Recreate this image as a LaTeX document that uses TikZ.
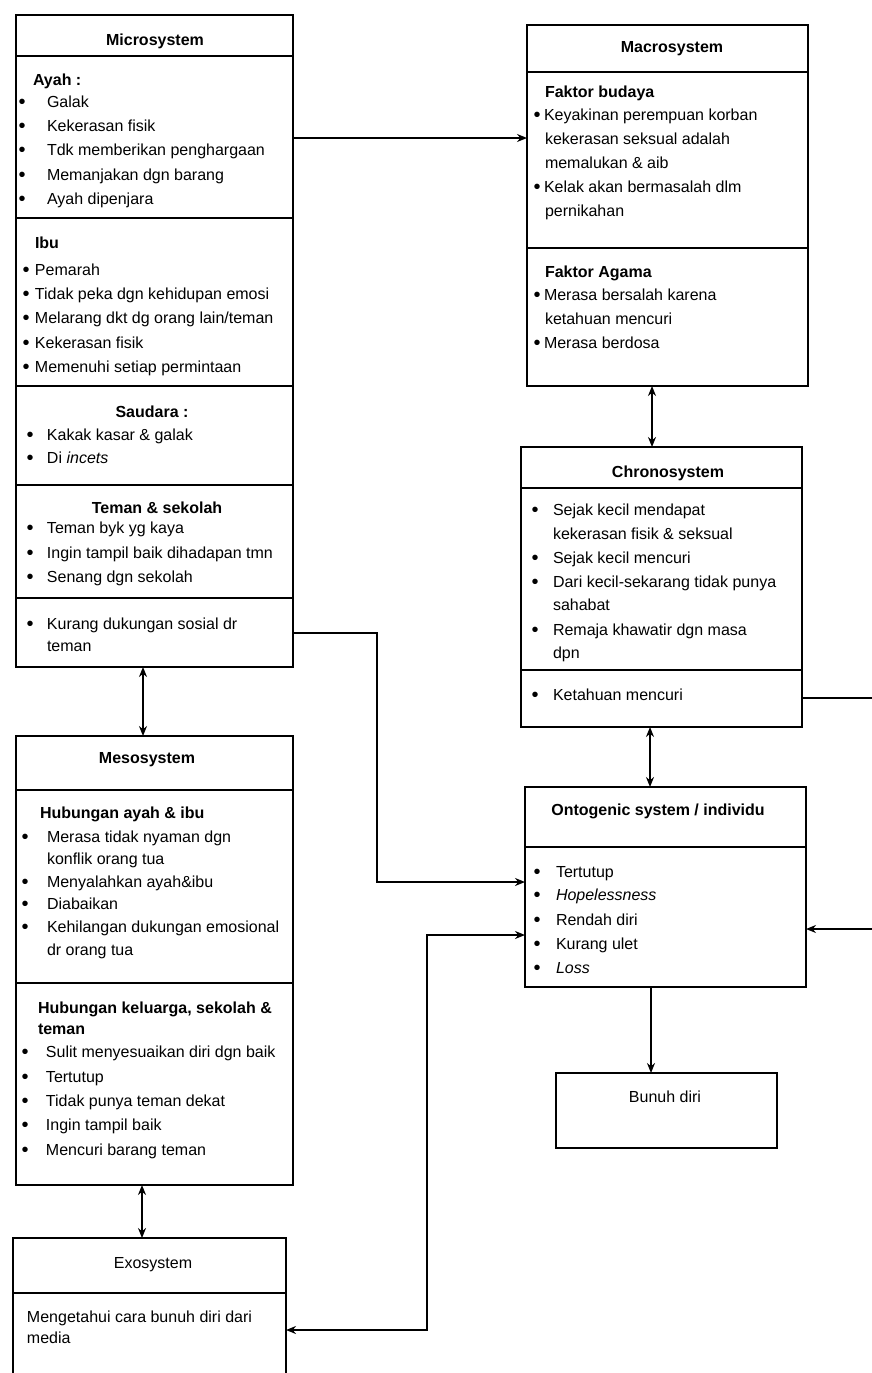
\documentclass[tikz,border=0pt]{standalone}
\usepackage{fontspec}
\setmainfont{Liberation Sans}
\usetikzlibrary{arrows.meta}
\newcommand\bdot{\raisebox{-1pt}{\fontsize{20}{19}\selectfont\textbullet}}
\newcommand\bl[5]{\node[txt] (#1) at ({#2-3.5},#4) {\makebox[\dimexpr #3pt-#2pt+3.5pt\relax][l]{\bdot}#5};}
\tikzset{
 box/.style={draw, line width=2.2pt, anchor=north west, inner sep=0pt, outer sep=0pt},
 div/.style={line width=2pt},
 txt/.style={anchor=base west, inner sep=0pt, outer sep=0pt, font=\fontsize{16}{19}\selectfont},
 txtb/.style={txt, font=\fontsize{16}{19}\selectfont\bfseries},
 hd/.style={anchor=base, inner sep=0pt, outer sep=0pt, font=\fontsize{16}{19}\selectfont\bfseries},
 txtc/.style={anchor=base, inner sep=0pt, outer sep=0pt, font=\fontsize{16}{19}\selectfont},
 tip/.style={Stealth[length=10pt,width=8pt]},
 arr/.style={line width=1.8pt, -{Stealth[length=10pt,width=8pt]}},
 darr/.style={line width=1.8pt, {Stealth[length=10pt,width=8pt]}-{Stealth[length=10pt,width=8pt]}},
}
\begin{document}
\begin{tikzpicture}[x=1pt,y=-1pt]
\path[use as bounding box, fill=white] (0,0) rectangle (872,1373);
\clip (0,0) rectangle (872,1373);

% ---------- boxes ----------
\node[box, minimum width=277pt, minimum height=652pt] (micro) at (16,15) {};
\node[box, minimum width=281pt, minimum height=361pt] (macro) at (527,25) {};
\node[box, minimum width=281pt, minimum height=280pt] (chrono) at (521,447) {};
\node[box, minimum width=281pt, minimum height=200pt] (onto) at (525,787) {};
\node[box, minimum width=221pt, minimum height=75pt] (bunuh) at (556,1073) {};
\node[box, minimum width=277pt, minimum height=449pt] (meso) at (16,736) {};
\node[box, minimum width=273pt, minimum height=150pt] (exo) at (13,1238) {};

% ---------- dividers ----------
\foreach \yy in {56,218,386,485,598}
  \draw[div] (micro.west |- 0,\yy) -- (micro.east |- 0,\yy);
\foreach \yy in {72,248}
  \draw[div] (macro.west |- 0,\yy) -- (macro.east |- 0,\yy);
\foreach \yy in {488,670}
  \draw[div] (chrono.west |- 0,\yy) -- (chrono.east |- 0,\yy);
\draw[div] (onto.west |- 0,847) -- (onto.east |- 0,847);
\foreach \yy in {790,983}
  \draw[div] (meso.west |- 0,\yy) -- (meso.east |- 0,\yy);
\draw[div] (exo.west |- 0,1293) -- (exo.east |- 0,1293);

% ---------- Microsystem ----------
\node[hd] (microT) at (155,45) {Microsystem};
\node[txtb] (ayahH) at (33,85) {Ayah :};
\bl{a1}{22}{47}{107}{Galak}
\bl{a2}{22}{47}{131}{Kekerasan fisik}
\bl{a3}{22}{47}{155}{Tdk memberikan penghargaan}
\bl{a4}{22}{47}{180}{Memanjakan dgn barang}
\bl{a5}{22}{47}{204}{Ayah dipenjara}
\node[txtb] (ibuH) at (35,248) {Ibu};
\bl{i1}{26}{35}{275}{Pemarah}
\bl{i2}{26}{35}{299}{Tidak peka dgn kehidupan emosi}
\bl{i3}{26}{35}{323}{Melarang dkt dg orang lain/teman}
\bl{i4}{26}{35}{348}{Kekerasan fisik}
\bl{i5}{26}{35}{372}{Memenuhi setiap permintaan}
\node[hd] (saudH) at (152,417) {Saudara :};
\bl{s1}{30}{47}{440}{Kakak kasar \& galak}
\bl{s2}{30}{47}{463}{Di \textit{incets}}
\node[hd] (temanH) at (157,513) {Teman \& sekolah};
\bl{t1}{30}{47}{533}{Teman byk yg kaya}
\bl{t2}{30}{47}{558}{Ingin tampil baik dihadapan tmn}
\bl{t3}{30}{47}{582}{Senang dgn sekolah}
\bl{k1}{30}{47}{629}{Kurang dukungan sosial dr}
\node[txt] (k2) at (47,651) {teman};

% ---------- Macrosystem ----------
\node[hd] (macroT) at (672,52) {Macrosystem};
\node[txtb] (budH) at (545,97) {Faktor budaya};
\bl{b1}{537}{544}{120}{Keyakinan perempuan korban}
\node[txt] (b1b) at (545,144) {kekerasan seksual adalah};
\node[txt] (b1c) at (545,168) {memalukan \& aib};
\bl{b2}{537}{544}{192}{Kelak akan bermasalah dlm}
\node[txt] (b2b) at (545,216) {pernikahan};
\node[txtb] (agH) at (545,277) {Faktor Agama};
\bl{g1}{537}{544}{300}{Merasa bersalah karena}
\node[txt] (g1b) at (545,324) {ketahuan mencuri};
\bl{g2}{537}{544}{348}{Merasa berdosa}

% ---------- Chronosystem ----------
\node[hd] (chronoT) at (668,477) {Chronosystem};
\bl{c1}{535}{553}{515}{Sejak kecil mendapat}
\node[txt] (c1b) at (553,539) {kekerasan fisik \& seksual};
\bl{c2}{535}{553}{563}{Sejak kecil mencuri}
\bl{c3}{535}{553}{587}{Dari kecil-sekarang tidak punya}
\node[txt] (c3b) at (553,610) {sahabat};
\bl{c4}{535}{553}{635}{Remaja khawatir dgn masa}
\node[txt] (c4b) at (553,658) {dpn};
\bl{c5}{535}{553}{700}{Ketahuan mencuri}

% ---------- Ontogenic ----------
\node[hd] (ontoT) at (658,815) {Ontogenic system / individu};
\bl{o1}{537}{556}{877}{Tertutup}
\bl{o2}{537}{556}{900}{\textit{Hopelessness}}
\bl{o3}{537}{556}{925}{Rendah diri}
\bl{o4}{537}{556}{949}{Kurang ulet}
\bl{o5}{537}{556}{973}{\textit{Loss}}

% ---------- Bunuh diri ----------
\node[txtc] (bunuhT) at (665,1102) {Bunuh diri};

% ---------- Mesosystem ----------
\node[hd] (mesoT) at (147,763) {Mesosystem};
\node[txtb] (hub1) at (40,818) {Hubungan ayah \& ibu};
\bl{m1}{25}{47}{842}{Merasa tidak nyaman dgn}
\node[txt] (m1b) at (47,864) {konflik orang tua};
\bl{m2}{25}{47}{887}{Menyalahkan ayah\&ibu}
\bl{m3}{25}{47}{909}{Diabaikan}
\bl{m4}{25}{47}{932}{Kehilangan dukungan emosional}
\node[txt] (m4b) at (47,955) {dr orang tua};
\node[txtb] (hub2) at (38,1013) {Hubungan keluarga, sekolah \&};
\node[txtb] (hub2b) at (38,1034) {teman};
\bl{n1}{25}{46}{1057}{Sulit menyesuaikan diri dgn baik}
\bl{n2}{25}{46}{1082}{Tertutup}
\bl{n3}{25}{46}{1106}{Tidak punya teman dekat}
\bl{n4}{25}{46}{1130}{Ingin tampil baik}
\bl{n5}{25}{46}{1155}{Mencuri barang teman}

% ---------- Exosystem ----------
\node[txtc] (exoT) at (153,1268) {Exosystem};
\node[txt] (e1) at (27,1322) {Mengetahui cara bunuh diri dari};
\node[txt] (e2) at (27,1343) {media};

% ---------- connectors ----------
\draw[arr] (micro.east |- 0,138) -- (macro.west |- 0,138);
\draw[darr] (micro.south -| 143,0) -- (meso.north -| 143,0);
\draw[darr] (meso.south -| 142,0) -- (exo.north -| 142,0);
\draw[darr] (macro.south -| 652,0) -- (chrono.north -| 652,0);
\draw[darr] (chrono.south -| 650,0) -- (onto.north -| 650,0);
\draw[arr] (onto.south -| 651,0) -- (bunuh.north -| 651,0);
\draw[arr] (micro.east |- 0,633) -- (377,633) -- (377,882) -- (onto.west |- 0,882);
\draw[darr] (exo.east |- 0,1330) -- (427,1330) -- (427,935) -- (onto.west |- 0,935);
\draw[arr] (chrono.east |- 0,698) -- (892,698) -- (892,929) -- (onto.east |- 0,929);
\end{tikzpicture}
\end{document}
